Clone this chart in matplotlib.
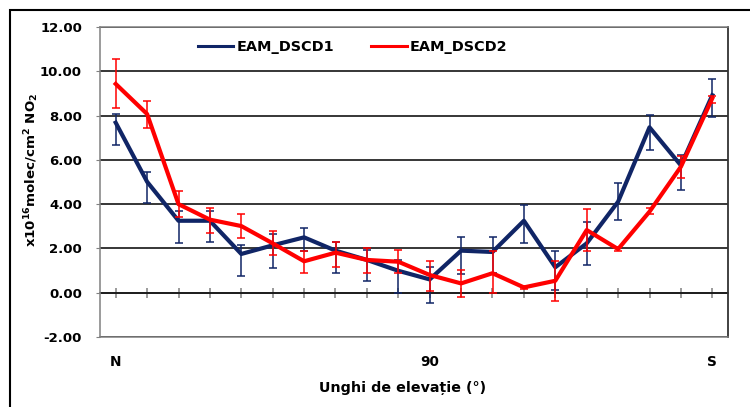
import matplotlib
matplotlib.use("Agg")
import matplotlib.pyplot as plt
from matplotlib.lines import Line2D
from matplotlib.patches import Rectangle
import numpy as np

plt.rcParams['font.family'] = ['DejaVu Sans']
plt.rcParams['mathtext.fontset'] = 'dejavusans'
plt.rcParams['mathtext.default'] = 'bf'

# ---- data ----
categories = list(range(20))
tick_labels = {0: "N", 10: "90", 19: "S"}

dscd1 = [7.68, 5.01, 3.25, 3.25, 1.75, 2.14, 2.50, 1.90, 1.48, 0.99,
         0.60, 1.90, 1.84, 3.25, 1.15, 2.23, 4.11, 7.47, 5.75, 8.92]
dscd1_hi = [8.07, 5.47, 3.70, 3.70, 2.15, 2.65, 2.94, 2.30, 1.93, 1.48,
            1.15, 2.50, 2.53, 3.96, 1.87, 3.20, 4.97, 8.03, 6.20, 9.65]
dscd1_lo = [6.67, 4.04, 2.26, 2.29, 0.75, 1.13, 1.90, 0.90, 0.51, -0.03,
            -0.45, 0.84, 0.88, 2.26, 0.12, 1.25, 3.28, 6.45, 4.64, 7.92]

dscd2 = [9.43, 8.07, 4.00, 3.30, 3.01, 2.23, 1.42, 1.81, 1.48, 1.40,
         0.80, 0.42, 0.88, 0.24, 0.54, 2.83, 1.97, 3.66, 5.69, 8.78]
dscd2_hi = [10.56, 8.66, 4.59, 3.84, 3.55, 2.80, 1.90, 2.30, 2.02, 1.93,
            1.45, 1.03, 1.90, 0.30, 1.45, 3.77, 2.05, 3.81, 6.17, 8.88]
dscd2_lo = [8.33, 7.42, 3.40, 2.68, 2.46, 1.72, 0.88, 1.17, 0.90, 0.88,
            0.09, -0.21, -0.03, 0.18, -0.36, 1.90, 1.90, 3.54, 5.17, 8.55]

y_ticks = [-2, 0, 2, 4, 6, 8, 10, 12]

BLUE = '#102566'
RED = '#ff0000'
GRAY = '#808080'

W, H = 750, 407
fig = plt.figure(figsize=(W / 100, H / 100), dpi=100)
ax = fig.add_axes([100 / W, (H - 337) / H, (728 - 100) / W, (337 - 27) / H])

x = np.array(categories)

def yerr(v, lo, hi):
    v, lo, hi = np.array(v), np.array(lo), np.array(hi)
    return [v - lo, hi - v]

ax.errorbar(x, dscd1, yerr=yerr(dscd1, dscd1_lo, dscd1_hi), color=BLUE, lw=3,
            elinewidth=1.1, capsize=3, capthick=1.1, zorder=3)
ax.errorbar(x, dscd2, yerr=yerr(dscd2, dscd2_lo, dscd2_hi), color=RED, lw=3,
            elinewidth=1.1, capsize=3, capthick=1.1, zorder=4)

ax.set_xlim(-0.5, 19.5)
ax.set_ylim(-2, 12)

ax.set_yticks(y_ticks)
ax.set_yticklabels([f"{v:.2f}" for v in y_ticks], fontsize=9.5, fontweight='bold')
ax.tick_params(axis='y', length=3, color=GRAY, pad=10)
ax.yaxis.grid(True, color='black', lw=1.1)
ax.set_axisbelow(True)

ax.set_xticks(list(tick_labels.keys()))
ax.set_xticklabels(list(tick_labels.values()), fontsize=9.8, fontweight='bold')
ax.tick_params(axis='x', length=0, pad=13)

for side in ['left', 'top', 'bottom']:
    ax.spines[side].set_color(GRAY)
    ax.spines[side].set_linewidth(1.1)
ax.spines['right'].set_color('#333333')
ax.spines['right'].set_linewidth(1.3)

# horizontal category axis crossing at 0
sec = ax.secondary_xaxis((0 - (-2)) / 14)
sec.set_xticks(categories)
sec.tick_params(axis='x', direction='inout', length=7, width=1.1, color=GRAY,
                labelbottom=False, labeltop=False)
sec.spines['bottom'].set_color(GRAY)
sec.spines['bottom'].set_linewidth(1.3)

fig.text(403 / W, (H - 388) / H, "Unghi de elevație (°)", fontsize=10.3,
         fontweight='bold', ha='center', va='center')

fig.text(32 / W, (H - 170) / H, r"x10$^{16}$molec/cm$^{2}$ NO$_{2}$",
         rotation=90, fontsize=9.6, fontweight='bold', ha='center', va='center')

handles = [Line2D([], [], color=BLUE, lw=2.2), Line2D([], [], color=RED, lw=2.2)]
ax.legend(handles, ["EAM_DSCD1", "EAM_DSCD2"], ncol=2, frameon=False,
          loc='center left', bbox_to_anchor=((198 - 100) / 628, (337 - 47) / 310),
          prop={'weight': 'bold', 'size': 10.4}, handlelength=2.45,
          handletextpad=0.2, columnspacing=2.6, borderaxespad=0, borderpad=0)

fig.patches.append(Rectangle((10 / W, -0.1), 1.0, (H - 10) / H + 0.1, fill=False,
                             lw=1.5, edgecolor='black', transform=fig.transFigure))

fig.savefig("out.png", dpi=100)
